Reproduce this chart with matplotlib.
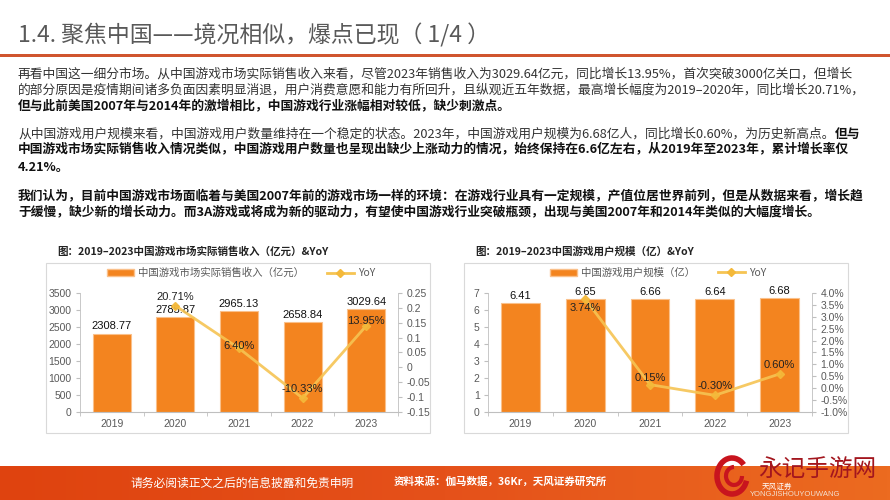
import matplotlib
matplotlib.use('Agg')
import matplotlib.pyplot as plt
import numpy as np
from matplotlib.patches import Rectangle, Arc, Patch
from matplotlib.lines import Line2D
from matplotlib.colors import LinearSegmentedColormap

plt.rcParams['font.family'] = ['Noto Sans CJK SC', 'DejaVu Sans']

# ---------------- data ----------------
years = ['2019', '2020', '2021', '2022', '2023']
revenue = [2308.77, 2785.87, 2965.13, 2658.84, 3029.64]
revenue_yoy = [np.nan, 0.2071, 0.0640, -0.1033, 0.1395]
revenue_yoy_labels = ['', '20.71%', '6.40%', '-10.33%', '13.95%']
rev_left_ticks = [0, 500, 1000, 1500, 2000, 2500, 3000, 3500]
rev_right_ticks = [-0.15, -0.1, -0.05, 0, 0.05, 0.1, 0.15, 0.2, 0.25]
rev_right_ticklabels = ['-0.15', '-0.1', '-0.05', '0', '0.05', '0.1', '0.15', '0.2', '0.25']

users = [6.41, 6.65, 6.66, 6.64, 6.68]
users_yoy = [np.nan, 3.74, 0.15, -0.30, 0.60]
users_yoy_labels = ['', '3.74%', '0.15%', '-0.30%', '0.60%']
user_left_ticks = [0, 1, 2, 3, 4, 5, 6, 7]
user_right_ticks = [-1.0, -0.5, 0.0, 0.5, 1.0, 1.5, 2.0, 2.5, 3.0, 3.5, 4.0]
user_right_ticklabels = ['-1.0%', '-0.5%', '0.0%', '0.5%', '1.0%', '1.5%', '2.0%',
                         '2.5%', '3.0%', '3.5%', '4.0%']

page_title = '1.4. 聚焦中国——境况相似，爆点已现（ 1/4 ）'
chart1_title = '图：2019–2023中国游戏市场实际销售收入（亿元）&YoY'
chart2_title = '图：2019–2023中国游戏用户规模（亿）&YoY'
chart1_bar_name = '中国游戏市场实际销售收入（亿元）'
chart2_bar_name = '中国游戏用户规模（亿）'

# paragraph lines: (segments, y) ; segment = (text, bold)
paragraphs = [
    ([('再看中国这一细分市场。从中国游戏市场实际销售收入来看，尽管2023年销售收入为3029.64亿元，同比增长13.95%，首次突破3000亿关口，但增长', False)], 74),
    ([('的部分原因是疫情期间诸多负面因素明显消退，用户消费意愿和能力有所回升，且纵观近五年数据，最高增长幅度为2019–2020年，同比增长20.71%，', False)], 90),
    ([('但与此前美国2007年与2014年的激增相比，中国游戏行业涨幅相对较低，缺少刺激点。', True)], 106),
    ([('从中国游戏用户规模来看，中国游戏用户数量维持在一个稳定的状态。2023年，中国游戏用户规模为6.68亿人，同比增长0.60%，为历史新高点。', False), ('但与', True)], 134),
    ([('中国游戏市场实际销售收入情况类似，中国游戏用户数量也呈现出缺少上涨动力的情况，始终保持在6.6亿左右，从2019年至2023年，累计增长率仅', True)], 150),
    ([('4.21%。', True)], 167),
    ([('我们认为，目前中国游戏市场面临着与美国2007年前的游戏市场一样的环境：在游戏行业具有一定规模，产值位居世界前列，但是从数据来看，增长趋', True)], 196),
    ([('于缓慢，缺少新的增长动力。而3A游戏或将成为新的驱动力，有望使中国游戏行业突破瓶颈，出现与美国2007年和2014年类似的大幅度增长。', True)], 212),
]

footer_left = '请务必阅读正文之后的信息披露和免责申明'
footer_src = '资料来源：伽马数据，36Kr，天风证券研究所'

# ---------------- style ----------------
W, H = 890, 500
BAR = '#F3841F'
BAR_EDGE = '#FAC08A'
LINE = '#F6C453'
MARK = '#F4B93A'
AX = '#BFBFBF'
TICK = '#595959'
NUMFONT = ['Liberation Sans', 'DejaVu Sans']


def fx(x):
    return x / W


def fy(y):
    return 1 - y / H


fig = plt.figure(figsize=(8.9, 5.0), dpi=100)
fig.patch.set_facecolor('white')

# page title and rule
fig.text(fx(18), fy(35), page_title, fontsize=16.5, color='#595959', va='center', ha='left')
fig.add_artist(Rectangle((0, fy(57)), 1, 3 / H, transform=fig.transFigure,
                         facecolor='#D0552E', edgecolor='none'))

# paragraphs
renderer = fig.canvas.get_renderer()
for segs, y in paragraphs:
    x = fx(18)
    for txt, bold in segs:
        t = fig.text(x, fy(y), txt, fontsize=9.2, va='center', ha='left',
                     color='#111111' if bold else '#333333',
                     fontweight='bold' if bold else 'normal')
        bb = t.get_window_extent(renderer)
        x = bb.x1 / fig.bbox.width

# chart titles
fig.text(fx(57), fy(252), chart1_title, fontsize=7.6, fontweight='bold', color='#222222', va='center')
fig.text(fx(475), fy(252), chart2_title, fontsize=7.6, fontweight='bold', color='#222222', va='center')

# chart frames
for (x0, x1) in [(46, 430), (464, 848)]:
    fig.add_artist(Rectangle((fx(x0), fy(433)), (x1 - x0) / W, (433 - 263) / H,
                             transform=fig.transFigure, facecolor='none',
                             edgecolor='#D9D9D9', lw=0.8))


def draw_chart(left_px, right_px, bars, yoy, yoy_labels, bar_fmt,
               lticks, lticklabels, rticks, rticklabels, rlim, yoy_offsets,
               legend_name, legend_x):
    ax = fig.add_axes([fx(left_px), fy(412), (right_px - left_px) / W, (412 - 293) / H])
    x = np.arange(len(years))
    ax.bar(x, bars, width=0.6, color=BAR, edgecolor=BAR_EDGE, linewidth=0.8, zorder=2)
    ax.set_xlim(-0.5, len(years) - 0.5)
    ax.set_ylim(lticks[0], lticks[-1])
    ax.set_yticks(lticks)
    ax.set_yticklabels(lticklabels, fontsize=7.5, color=TICK, family=NUMFONT)
    ax.set_xticks(x)
    ax.set_xticklabels(years, fontsize=7.5, color=TICK, family=NUMFONT)
    ax.set_xticks(np.arange(-0.5, len(years)), minor=True)
    ax.tick_params(axis='x', which='major', length=0, pad=5)
    ax.tick_params(axis='x', which='minor', length=3, color=AX)
    ax.tick_params(axis='y', length=3, color=AX, pad=3)
    for s in ['top', 'right']:
        ax.spines[s].set_visible(False)
    ax.spines['left'].set_color(AX)
    ax.spines['bottom'].set_color(AX)
    ax.spines['left'].set_linewidth(0.6)
    ax.spines['bottom'].set_linewidth(0.8)
    for i, v in enumerate(bars):
        ax.annotate(bar_fmt.format(v), (i, v), xytext=(0, 1.5), textcoords='offset points',
                    ha='center', va='bottom', fontsize=8, color='#111111', family=NUMFONT, zorder=5)
    ax2 = ax.twinx()
    ax2.set_ylim(*rlim)
    ax2.set_yticks(rticks)
    ax2.set_yticklabels(rticklabels, fontsize=7.5, color=TICK, family=NUMFONT)
    ax2.tick_params(axis='y', length=3, color=AX, pad=3)
    for s in ['top', 'left', 'bottom']:
        ax2.spines[s].set_visible(False)
    ax2.spines['right'].set_color(AX)
    ax2.spines['right'].set_linewidth(0.6)
    ax2.plot(x, yoy, color=LINE, lw=2, marker='D', markersize=4, alpha=0.9,
             markerfacecolor=MARK, markeredgecolor=MARK, zorder=3)
    for i, (v, lab) in enumerate(zip(yoy, yoy_labels)):
        if lab:
            ax2.annotate(lab, (i, v), xytext=(0, yoy_offsets[i]), textcoords='offset points',
                         ha='center', va='center', fontsize=8, color='#222222',
                         family=NUMFONT, zorder=6)
    handles = [Patch(facecolor=BAR, edgecolor=BAR_EDGE),
               Line2D([0], [0], color=LINE, lw=2, marker='D', markersize=4,
                      markerfacecolor=MARK, markeredgecolor=MARK)]
    fig.legend(handles, [legend_name, 'YoY'], loc='center',
               bbox_to_anchor=(fx(legend_x), fy(273)), ncol=2, frameon=False,
               fontsize=7.5, labelcolor='#595959', handlelength=2.6, handleheight=0.7,
               columnspacing=2.2, handletextpad=0.4)
    return ax, ax2


draw_chart(80, 398, revenue, revenue_yoy, revenue_yoy_labels, '{:.2f}',
           rev_left_ticks, [str(t) for t in rev_left_ticks],
           rev_right_ticks, rev_right_ticklabels, (-0.15, 0.25),
           [0, 6, 1.5, 6.5, 3.5], chart1_bar_name, 241)

draw_chart(488, 812, users, users_yoy, users_yoy_labels, '{:.2f}',
           user_left_ticks, [str(t) for t in user_left_ticks],
           user_right_ticks, user_right_ticklabels, (-1.0, 4.0),
           [0, -6.5, 5, 6.5, 6.5], chart2_bar_name, 658)

# footer band with gradient
fax = fig.add_axes([0, 0, 1, 34 / H])
fax.axis('off')
grad = np.linspace(0, 1, 256).reshape(1, -1)
cmap = LinearSegmentedColormap.from_list('ftr', ['#DF430F', '#E5511A', '#EC6B20'])
fax.imshow(grad, aspect='auto', cmap=cmap, extent=(0, 1, 0, 1))
fax.set_xlim(0, 1)
fax.set_ylim(0, 1)
fig.text(fx(242), fy(483), footer_left, fontsize=8.5, color='white', ha='center', va='center', zorder=10)
fig.text(fx(394), fy(482), footer_src, fontsize=7.6, color='white', fontweight='bold',
         ha='left', va='center', zorder=10)

# watermark
fig.add_artist(Arc((fx(732), fy(476)), 30 / W, 36 / H, theta1=60, theta2=330,
                   transform=fig.transFigure, color='#C8141E', lw=4, zorder=11))
fig.add_artist(Arc((fx(734), fy(476)), 16 / W, 18 / H, theta1=90, theta2=360,
                   transform=fig.transFigure, color='#C8141E', lw=3, zorder=11))
fig.text(fx(758), fy(469), '永记手游网', fontsize=17, color='#A3161E', ha='left', va='center', zorder=12)
fig.text(fx(762), fy(487), '天风证券', fontsize=5.5, color='white', ha='left', va='center', zorder=12)
fig.text(fx(750), fy(495), 'YONGJISHOUYOUWANG', fontsize=5.5, color='#F3E0D0', ha='left', va='center',
         family=NUMFONT, zorder=12)

fig.savefig('out.png', dpi=100)
